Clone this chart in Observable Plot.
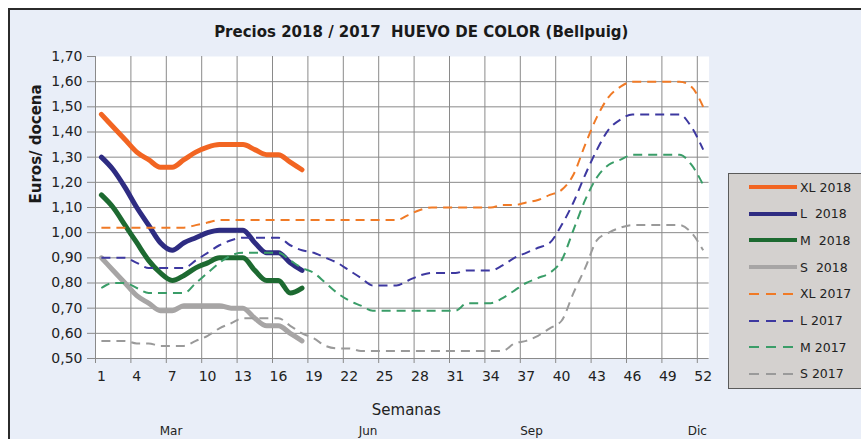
<!DOCTYPE html>
<html><head><meta charset="utf-8">
<script src="https://cdn.jsdelivr.net/npm/d3@7"></script>
<script src="https://cdn.jsdelivr.net/npm/@observablehq/plot@0.6"></script>
<style>
body{margin:0;background:#fff;overflow:hidden;}
#wrap{position:relative;width:861px;height:439px;overflow:hidden;font-family:"DejaVu Sans",Verdana,sans-serif;}
#frame{position:absolute;left:8px;top:8px;width:900px;height:500px;background:#e9eef8;border:2px solid #2b2b2b;}
#chart{position:absolute;left:0;top:0;}
#legend{position:absolute;left:728px;top:173px;width:150px;height:214px;background:#d4d1cf;border:1px solid #5a5a5a;}
.row{position:absolute;left:20px;height:20px;display:flex;align-items:center;font-size:12.5px;color:#222;white-space:pre;}
.row svg{margin-right:3px;}
</style></head>
<body>
<div id="wrap"><div id="frame"></div><div id="chart"></div><div id="legend"></div></div>
<script>
const weeks = d3.range(1, 53);
const xl2018 = [1.47,1.42,1.37,1.32,1.29,1.26,1.26,1.29,1.32,1.34,1.35,1.35,1.35,1.33,1.31,1.31,1.28,1.25];
const l2018  = [1.30,1.25,1.18,1.10,1.03,0.96,0.93,0.96,0.98,1.00,1.01,1.01,1.01,0.96,0.92,0.92,0.88,0.85];
const m2018  = [1.15,1.10,1.03,0.96,0.89,0.84,0.81,0.83,0.86,0.88,0.90,0.90,0.90,0.85,0.81,0.81,0.76,0.78];
const s2018  = [0.90,0.85,0.80,0.75,0.72,0.69,0.69,0.71,0.71,0.71,0.71,0.70,0.70,0.66,0.63,0.63,0.60,0.57];
const xl2017 = [1.02,1.02,1.02,1.02,1.02,1.02,1.02,1.02,1.03,1.04,1.05,1.05,1.05,1.05,1.05,1.05,1.05,1.05,1.05,1.05,1.05,1.05,1.05,1.05,1.05,1.05,1.07,1.09,1.10,1.10,1.10,1.10,1.10,1.10,1.11,1.11,1.12,1.13,1.15,1.17,1.23,1.35,1.46,1.54,1.58,1.60,1.60,1.60,1.60,1.60,1.58,1.50];
const l2017  = [0.90,0.90,0.90,0.88,0.86,0.86,0.86,0.86,0.89,0.92,0.95,0.97,0.98,0.98,0.98,0.98,0.95,0.93,0.92,0.90,0.88,0.85,0.82,0.79,0.79,0.79,0.81,0.83,0.84,0.84,0.84,0.85,0.85,0.85,0.87,0.90,0.92,0.94,0.96,1.03,1.12,1.23,1.33,1.41,1.45,1.47,1.47,1.47,1.47,1.47,1.42,1.33];
const m2017  = [0.78,0.80,0.80,0.78,0.76,0.76,0.76,0.76,0.80,0.84,0.88,0.91,0.92,0.92,0.92,0.92,0.89,0.86,0.84,0.80,0.76,0.73,0.71,0.69,0.69,0.69,0.69,0.69,0.69,0.69,0.69,0.72,0.72,0.72,0.74,0.77,0.80,0.82,0.84,0.89,1.01,1.13,1.22,1.27,1.29,1.31,1.31,1.31,1.31,1.31,1.27,1.19];
const s2017  = [0.57,0.57,0.57,0.56,0.56,0.55,0.55,0.55,0.57,0.59,0.62,0.64,0.66,0.66,0.66,0.66,0.63,0.60,0.58,0.55,0.54,0.54,0.53,0.53,0.53,0.53,0.53,0.53,0.53,0.53,0.53,0.53,0.53,0.53,0.53,0.56,0.57,0.59,0.62,0.65,0.76,0.86,0.97,1.00,1.02,1.03,1.03,1.03,1.03,1.03,1.00,0.93];

const seriesNames = ["XL 2018","L  2018","M  2018","S  2018","XL 2017","L 2017","M 2017","S 2017"];
const seriesValues = [xl2018,l2018,m2018,s2018,xl2017,l2017,m2017,s2017];
const seriesColors = ["#f26522","#2e2c82","#1d6a31","#a7a5a5","#f07a26","#3d38a0","#3a9d68","#9a9a9a"];
const seriesDashed = [false,false,false,false,true,true,true,true];

const weekTicks = [1,4,7,10,13,16,19,22,25,28,31,34,37,40,43,46,49,52];
const weekBounds = [0.5,3.5,6.5,9.5,12.5,15.5,18.5,21.5,24.5,27.5,30.5,33.5,36.5,39.5,42.5,45.5,48.5,51.5];
const yTicks = [0.5,0.6,0.7,0.8,0.9,1.0,1.1,1.2,1.3,1.4,1.5,1.6,1.7];
const yGrid = [0.6,0.7,0.8,0.9,1.0,1.1,1.2,1.3,1.4,1.5,1.6];
const monthLabels = ["Mar","Jun","Sep","Dic"];
const monthWeeks = [6.9,23.6,37.45,51.5];

const title = "Precios 2018 / 2017\u00a0 HUEVO DE COLOR (Bellpuig)";
const yLabel = "Euros/ docena";
const xLabel = "Semanas";

const rows = [];
seriesValues.forEach((vals, i) => vals.forEach((v, j) => rows.push({series: seriesNames[i], week: weeks[j], value: v})));
const months = monthLabels.map((m, i) => ({label: m, week: monthWeeks[i]}));

const lineMarks = seriesNames.map((name, i) => Plot.line(rows.filter(r => r.series === name), {
  x: "week", y: "value", stroke: seriesColors[i], curve: "monotone-x",
  strokeWidth: seriesDashed[i] ? 2 : 5,
  strokeDasharray: seriesDashed[i] ? "9,6" : null,
  strokeLinecap: seriesDashed[i] ? "butt" : "round",
  strokeLinejoin: "round"
}));

const font = "DejaVu Sans, Verdana, sans-serif";
const chart = Plot.plot({
  width: 861, height: 439,
  marginLeft: 95, marginRight: 152.4, marginTop: 56, marginBottom: 81,
  style: {background: "transparent", fontFamily: font, fontSize: "14px", color: "#222", overflow: "visible"},
  x: {domain: [0.5, 52.5]},
  y: {domain: [0.5, 1.7]},
  marks: [
    Plot.frame({fill: "white", stroke: null}),
    Plot.ruleY(yGrid, {stroke: "#8a8a8a", strokeWidth: 1}),
    Plot.ruleX(weekBounds.slice(1), {stroke: "#8a8a8a", strokeWidth: 1}),
    Plot.ruleX([0.5], {stroke: "#8a8a8a"}),
    Plot.ruleY([0.5], {stroke: "#8a8a8a"}),
    Plot.axisY({ticks: yTicks, tickFormat: d => d.toFixed(2).replace(".", ","), tickSize: 8, tickPadding: 5, label: null, stroke: "#8a8a8a", fontSize: 14}),
    Plot.axisX({ticks: weekTicks, tickSize: 0, tickPadding: 13, label: null, fontSize: 14}),
    Plot.axisX({ticks: weekBounds, tickSize: 5, tickFormat: () => "", label: null, stroke: "#8a8a8a"}),
    ...lineMarks,
    Plot.text([title], {frameAnchor: "top", lineAnchor: "middle", dx: 19, dy: -24, fontWeight: "bold", fontSize: 15, fill: "#1a1a1a"}),
    Plot.text([yLabel], {frameAnchor: "left", lineAnchor: "middle", rotate: -90, dx: -59, dy: -4, fontWeight: "bold", fontSize: 15, fill: "#1a1a1a"}),
    Plot.text([xLabel], {frameAnchor: "bottom", lineAnchor: "middle", dx: 4, dy: 52, fontSize: 15, fill: "#222"}),
    Plot.text(months, {x: "week", text: "label", frameAnchor: "bottom", lineAnchor: "middle", dy: 73, fontSize: 12, fill: "#222"})
  ]
});
document.getElementById("chart").appendChild(chart);

const legend = document.getElementById("legend");
seriesNames.forEach((name, i) => {
  const row = document.createElement("div");
  row.className = "row";
  row.style.top = (3 + i * 26.7) + "px";
  const dash = seriesDashed[i] ? 'stroke-dasharray="10,7"' : '';
  row.innerHTML = `<svg width="48" height="8"><line x1="0" y1="4" x2="48" y2="4" stroke="${seriesColors[i]}" stroke-width="${seriesDashed[i] ? 2 : 4}" ${dash}/></svg><span>${name}</span>`;
  legend.appendChild(row);
});
</script>
</body></html>
